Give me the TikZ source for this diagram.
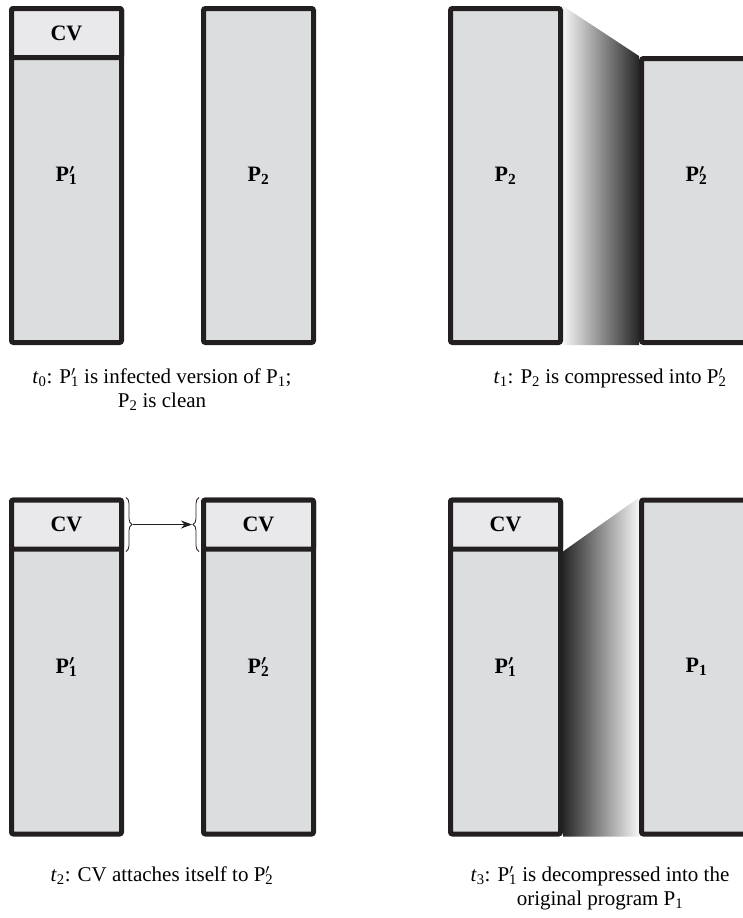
\documentclass[tikz,border=0pt]{standalone}
\usepackage{fontspec}
\setmainfont{Liberation Serif}
\usetikzlibrary{arrows.meta,positioning,calc,decorations.pathreplacing,backgrounds}
\definecolor{border}{HTML}{231F20}
\definecolor{progfill}{HTML}{DCDDDF}
\definecolor{cvfill}{HTML}{E9E9EB}
\definecolor{shadedark}{HTML}{262626}
\definecolor{shadelight}{HTML}{F5F5F6}
\newcommand{\primed}[1]{P\rlap{$'$}\textsubscript{#1}}
\newcommand{\stg}[1]{\textit{t}\textsubscript{#1}}

\begin{document}
\begin{tikzpicture}[x=1pt,y=-1pt,
  prog/.style={draw=border,fill=progfill,line width=5pt,rounded corners=2pt,minimum width=110pt,minimum height=334pt,inner sep=0pt,font=\fontsize{22}{25}\selectfont\bfseries\boldmath},
  cvbox/.style={prog,fill=cvfill,minimum height=49pt,anchor=north},
  stagetext/.style={font=\fontsize{21}{24}\selectfont,align=center,inner sep=0pt,anchor=north},
  brace/.style={draw=border,line width=0.8pt,decorate,decoration={brace,amplitude=6pt}},
]
  \useasboundingbox (0,0) rectangle (743,918);

  % t0
  \node[prog] (p0a) at (66.5,175.5) {\primed{1}};
  \node[cvbox] (cv0) at (p0a.north) {CV};
  \node[prog] (p0b) at (258.5,175.5) {P\textsubscript{2}};
  \node[stagetext] (s0) at (162,368) {\stg{0}: \primed{1} is infected version of P\textsubscript{1};\\P\textsubscript{2} is clean};

  % t1
  \node[prog] (p1a) at (505.5,175.5) {P\textsubscript{2}};
  \node[prog,minimum height=284pt] (p1b) at (696.5,200.5) {};
  \node[prog,draw=none,fill=none,minimum size=0pt] (l1b) at (696.5,175.5) {\primed{2}};
  \node[stagetext] (s1) at (610,368) {\stg{1}: P\textsubscript{2} is compressed into \primed{2}};

  % t2
  \node[prog] (p2a) at (66.5,667) {\primed{1}};
  \node[cvbox] (cv2a) at (p2a.north) {CV};
  \node[prog] (p2b) at (258.5,667) {\primed{2}};
  \node[cvbox] (cv2b) at (p2b.north) {CV};
  \draw[brace] ([xshift=2pt]cv2a.north east) -- ([xshift=2pt]cv2a.south east);
  \draw[brace] ([xshift=-2pt]cv2b.south west) -- ([xshift=-2pt]cv2b.north west);
  \coordinate (tipL) at ([xshift=9pt]cv2a.east);
  \coordinate (tipR) at ([xshift=-9pt]cv2b.west);
  \draw[-{Stealth[length=11pt,width=8pt]},line width=0.9pt,border] (tipL) -- (tipR);
  \node[stagetext] (s2) at (162,866) {\stg{2}: CV attaches itself to \primed{2}};

  % t3
  \node[prog] (p3a) at (505.5,667) {\primed{1}};
  \node[cvbox] (cv3) at (p3a.north) {CV};
  \node[prog] (p3b) at (696.5,667) {P\textsubscript{1}};
  \node[stagetext] (s3) at (600,866) {\stg{3}: \primed{1} is decompressed into the\\original program P\textsubscript{1}};

  \begin{scope}[on background layer]
    \shade[left color=shadelight,right color=shadedark] (p1a.north east) -- (p1b.north west) -- (p1b.south west) -- (p1a.south east) -- cycle;
    \shade[left color=shadedark,right color=shadelight] (cv3.south east) -- (p3b.north west) -- (p3b.south west) -- (p3a.south east) -- cycle;
  \end{scope}
\end{tikzpicture}
\end{document}
